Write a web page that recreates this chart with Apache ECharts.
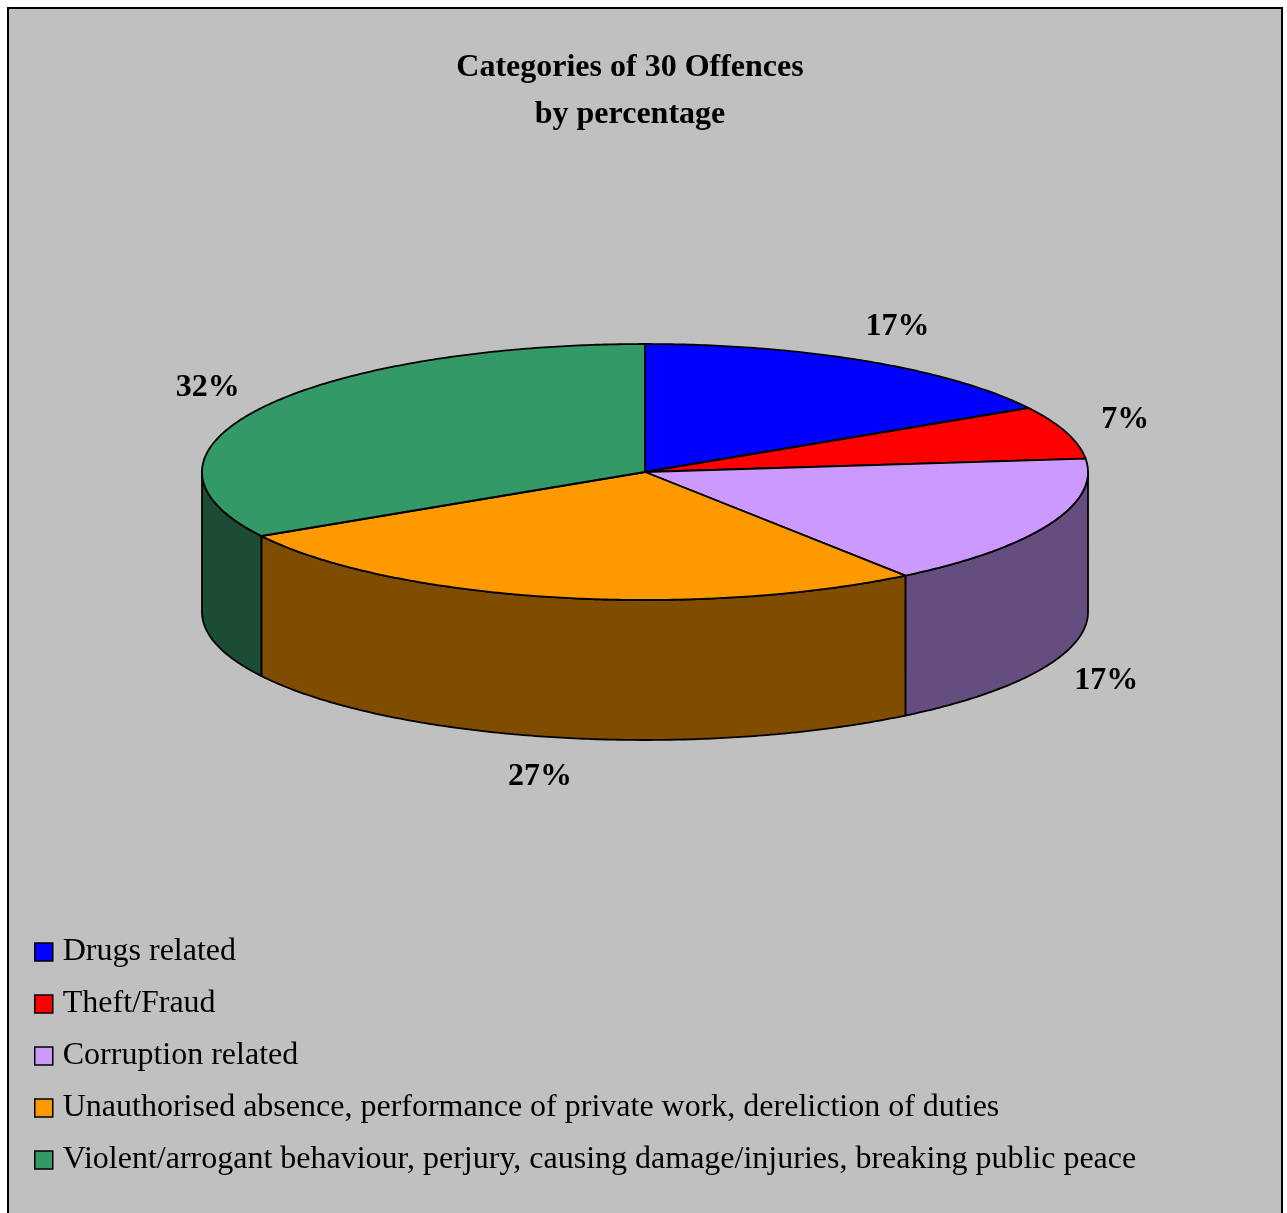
<!DOCTYPE html>
<html>
<head>
<meta charset="utf-8">
<title>Categories of 30 Offences</title>
<script src="https://cdn.jsdelivr.net/npm/echarts@6/dist/echarts.min.js"></script>
<style>
  html, body { margin: 0; padding: 0; background: #fff; }
  #MyChart { width: 1287px; height: 1213px; }
</style>
</head>
<body>
<div id="MyChart"></div>
<script>
// offence categories, number of offences (of 30) and the printed percentage labels
var categories = [
    'Drugs related',
    'Theft/Fraud',
    'Corruption related',
    'Unauthorised absence, performance of private work, dereliction of duties',
    'Violent/arrogant behaviour, perjury, causing damage/injuries, breaking public peace'
];
var counts = [5, 2, 5, 8, 10];
var percentLabels = ['17%', '7%', '17%', '27%', '32%'];
var topColors = ['#0000FF', '#FF0000', '#CC99FF', '#FF9900', '#339966'];
var sideColors = ['#000080', '#800000', '#664D80', '#804C00', '#1A4D33'];

// pie geometry (pixels)
var cx = 645, cy = 472, rx = 443, ry = 128, depth = 140;
var labelRx = 505, labelRy = 168;
var serif = '"Liberation Serif", "Times New Roman", serif';

var total = 0;
var cumBefore = [];
counts.forEach(function (v) { cumBefore.push(total); total += v; });

function pt(t, dy) {
    return [cx + rx * Math.sin(t), cy - ry * Math.cos(t) + (dy || 0)];
}

function arc(a, b, dy) {
    var pts = [];
    var n = Math.max(2, Math.ceil(Math.abs(b - a) / 0.01));
    for (var k = 0; k <= n; k++) {
        pts.push(pt(a + (b - a) * k / n, dy));
    }
    return pts;
}

function makeRender(i) {
    return function (params, api) {
        var v = api.value(0);
        var start = cumBefore[i] / total * Math.PI * 2;
        var end = start + v / total * Math.PI * 2;
        var children = [];
        // side wall (only the front half is visible)
        var s = Math.max(start, Math.PI / 2), e = Math.min(end, Math.PI * 1.5);
        if (s < e) {
            children.push({
                type: 'polygon', z2: 1,
                shape: { points: arc(s, e, 0).concat(arc(e, s, depth)) },
                style: { fill: sideColors[i], stroke: '#000', lineWidth: 1.8, lineJoin: 'round' }
            });
        }
        // top face
        children.push({
            type: 'polygon', z2: 10,
            shape: { points: [[cx, cy]].concat(arc(start, end, 0)) },
            style: { fill: topColors[i], stroke: '#000', lineWidth: 1.8, lineJoin: 'round' }
        });
        // percentage label
        var mid = (start + end) / 2;
        var lx = cx + labelRx * Math.sin(mid);
        var ly = cy - labelRy * Math.cos(mid) + (Math.cos(mid) < 0 ? depth : 0);
        children.push({
            type: 'text', z2: 20,
            style: {
                text: percentLabels[i],
                x: lx, y: ly,
                align: 'center', verticalAlign: 'middle',
                font: 'bold 32px ' + serif,
                fill: '#000'
            }
        });
        return { type: 'group', children: children };
    };
}

var myChart = echarts.init(document.getElementById('MyChart'));

var series = categories.map(function (name, i) {
    return {
        name: name,
        type: 'custom',
        coordinateSystem: 'none',
        renderItem: makeRender(i),
        itemStyle: { color: topColors[i] },
        data: [[counts[i]]],
        silent: true,
        animation: false
    };
});

var option = {
    backgroundColor: '#fff',
    animation: false,
    graphic: [{
        type: 'rect', z: -10, silent: true,
        shape: { x: 8, y: 8, width: 1274, height: 1240 },
        style: { fill: '#C0C0C0', stroke: '#000', lineWidth: 2 }
    }],
    title: {
        text: 'Categories of 30 Offences\nby percentage',
        left: 625,
        top: 39,
        textAlign: 'center',
        textStyle: {
            fontFamily: serif,
            fontWeight: 'bold',
            fontSize: 32,
            lineHeight: 47,
            color: '#000'
        }
    },
    legend: {
        orient: 'vertical',
        left: 34,
        top: 936,
        padding: 0,
        itemWidth: 18,
        itemHeight: 18,
        itemGap: 20,
        icon: 'rect',
        itemStyle: { borderColor: '#000', borderWidth: 1.5 },
        data: categories.map(function (name, i) {
            return { name: name, itemStyle: { color: topColors[i] } };
        }),
        textStyle: {
            fontFamily: serif,
            fontSize: 32,
            lineHeight: 30,
            color: '#000',
            padding: [0, 0, 0, 5]
        },
        selectedMode: false
    },
    series: series
};
myChart.setOption(option);
</script>
</body>
</html>
